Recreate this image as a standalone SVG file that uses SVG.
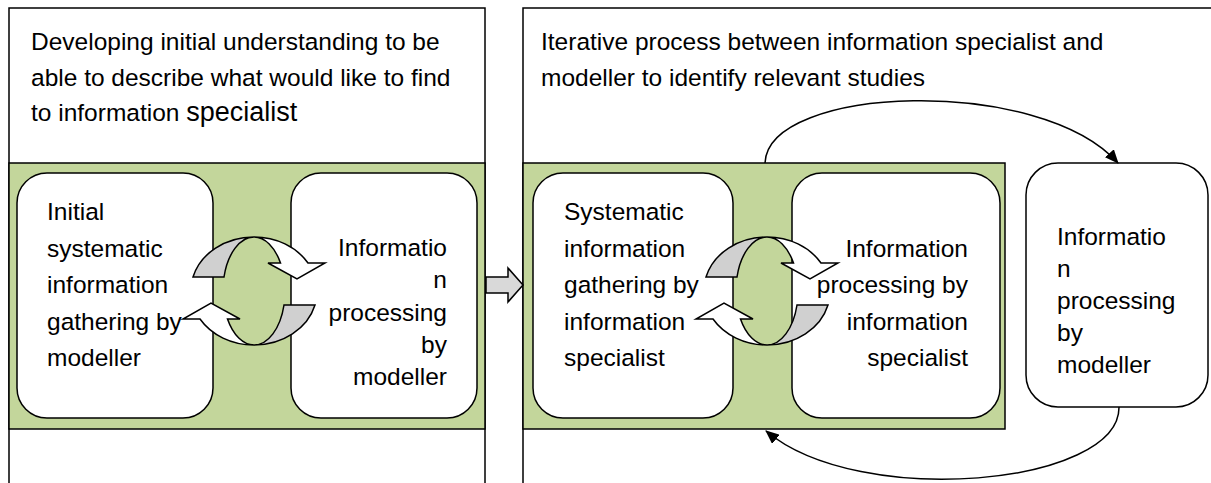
<svg xmlns="http://www.w3.org/2000/svg" width="1211" height="483" viewBox="0 0 1211 483">
<defs>
<style>
.panel{fill:#ffffff;stroke:#000;stroke-width:1.5}
.band{fill:#c3d69b;stroke:#000;stroke-width:1.5}
.box{fill:#ffffff;stroke:#000;stroke-width:1.5}
.t{font-family:"Liberation Sans",Arial,sans-serif;font-size:24.5px;fill:#000}
.r{text-anchor:end}
.gray{fill:#d0d0d0;stroke:#000;stroke-width:1.5;stroke-linejoin:miter}
.white{fill:#ffffff;stroke:#000;stroke-width:1.5;stroke-linejoin:miter}
.conn{fill:none;stroke:#000;stroke-width:1.5}
</style>
<marker id="ah" viewBox="0 0 14 12" refX="13" refY="6" markerWidth="14" markerHeight="12" markerUnits="userSpaceOnUse" orient="auto">
<path d="M0,0 L14,6 L0,12 Z" fill="#000"/>
</marker>
<g id="cyc">
<path class="gray" d="M-61,-14 A63,54 0 0 1 0,-54 A31,54 0 0 0 -30,-14 Z"/>
<path class="white" d="M0,-54 A63,54 0 0 1 54,-28 L71,-28 L43,-12 L14,-28 L26.5,-28 A31,54 0 0 0 0,-54 Z"/>
</g>
</defs>

<g id="panel-left">
<rect class="panel" x="9" y="8" width="476" height="490"/>
<text class="t" x="31" y="50">Developing initial understanding to be</text>
<text class="t" x="31" y="86">able to describe what would like to find</text>
<text class="t" x="31" y="121">to information <tspan font-size="27">specialist</tspan></text>
<rect class="band" x="9" y="163" width="476" height="266"/>
</g>

<g id="panel-right">
<rect class="panel" x="523" y="8" width="720" height="490"/>
<text class="t" x="541" y="50">Iterative process between information specialist and</text>
<text class="t" x="541" y="86">modeller to identify relevant studies</text>
<rect class="band" x="523" y="163" width="482" height="266"/>
</g>

<g id="node-initial-gathering">
<rect class="box" x="17" y="173" width="196" height="245" rx="30"/>
<text class="t" x="47" y="220">Initial</text>
<text class="t" x="47" y="257">systematic</text>
<text class="t" x="47" y="293">information</text>
<text class="t" x="47" y="330">gathering by</text>
<text class="t" x="47" y="366">modeller</text>
</g>

<g id="node-processing-modeller-1">
<rect class="box" x="291" y="173" width="186" height="245" rx="30"/>
<text class="t r" x="447" y="256">Informatio</text>
<text class="t r" x="447" y="288">n</text>
<text class="t r" x="447" y="321">processing</text>
<text class="t r" x="447" y="353">by</text>
<text class="t r" x="447" y="385">modeller</text>
</g>

<g id="node-systematic-gathering">
<rect class="box" x="533" y="173" width="200" height="245" rx="30"/>
<text class="t" x="564" y="220">Systematic</text>
<text class="t" x="564" y="257">information</text>
<text class="t" x="564" y="293">gathering by</text>
<text class="t" x="564" y="330">information</text>
<text class="t" x="564" y="366">specialist</text>
</g>

<g id="node-processing-specialist">
<rect class="box" x="792" y="173" width="208" height="245" rx="30"/>
<text class="t r" x="968" y="257">Information</text>
<text class="t r" x="968" y="293">processing by</text>
<text class="t r" x="968" y="330">information</text>
<text class="t r" x="968" y="366">specialist</text>
</g>

<g id="node-processing-modeller-2">
<rect class="box" x="1026" y="163" width="182" height="244" rx="32"/>
<text class="t" x="1057" y="245">Informatio</text>
<text class="t" x="1057" y="277">n</text>
<text class="t" x="1057" y="309">processing</text>
<text class="t" x="1057" y="341">by</text>
<text class="t" x="1057" y="373">modeller</text>
</g>

<g id="cycle-left" transform="translate(254,291)">
<use href="#cyc"/>
<use href="#cyc" transform="rotate(180)"/>
</g>

<g id="cycle-right" transform="translate(767,291)">
<use href="#cyc"/>
<use href="#cyc" transform="rotate(180)"/>
</g>

<g id="connectors">
<path d="M486,277 L508,277 L508,268 L523,285 L508,302 L508,293 L486,293 Z" fill="#d9d9d9" stroke="#000" stroke-width="1.5"/>
<path class="conn" d="M765,163 C768,85 1040,75 1118,163" marker-end="url(#ah)"/>
<path class="conn" d="M1119,407 C1120,485 860,510 766,431" marker-end="url(#ah)"/>
</g>
</svg>
